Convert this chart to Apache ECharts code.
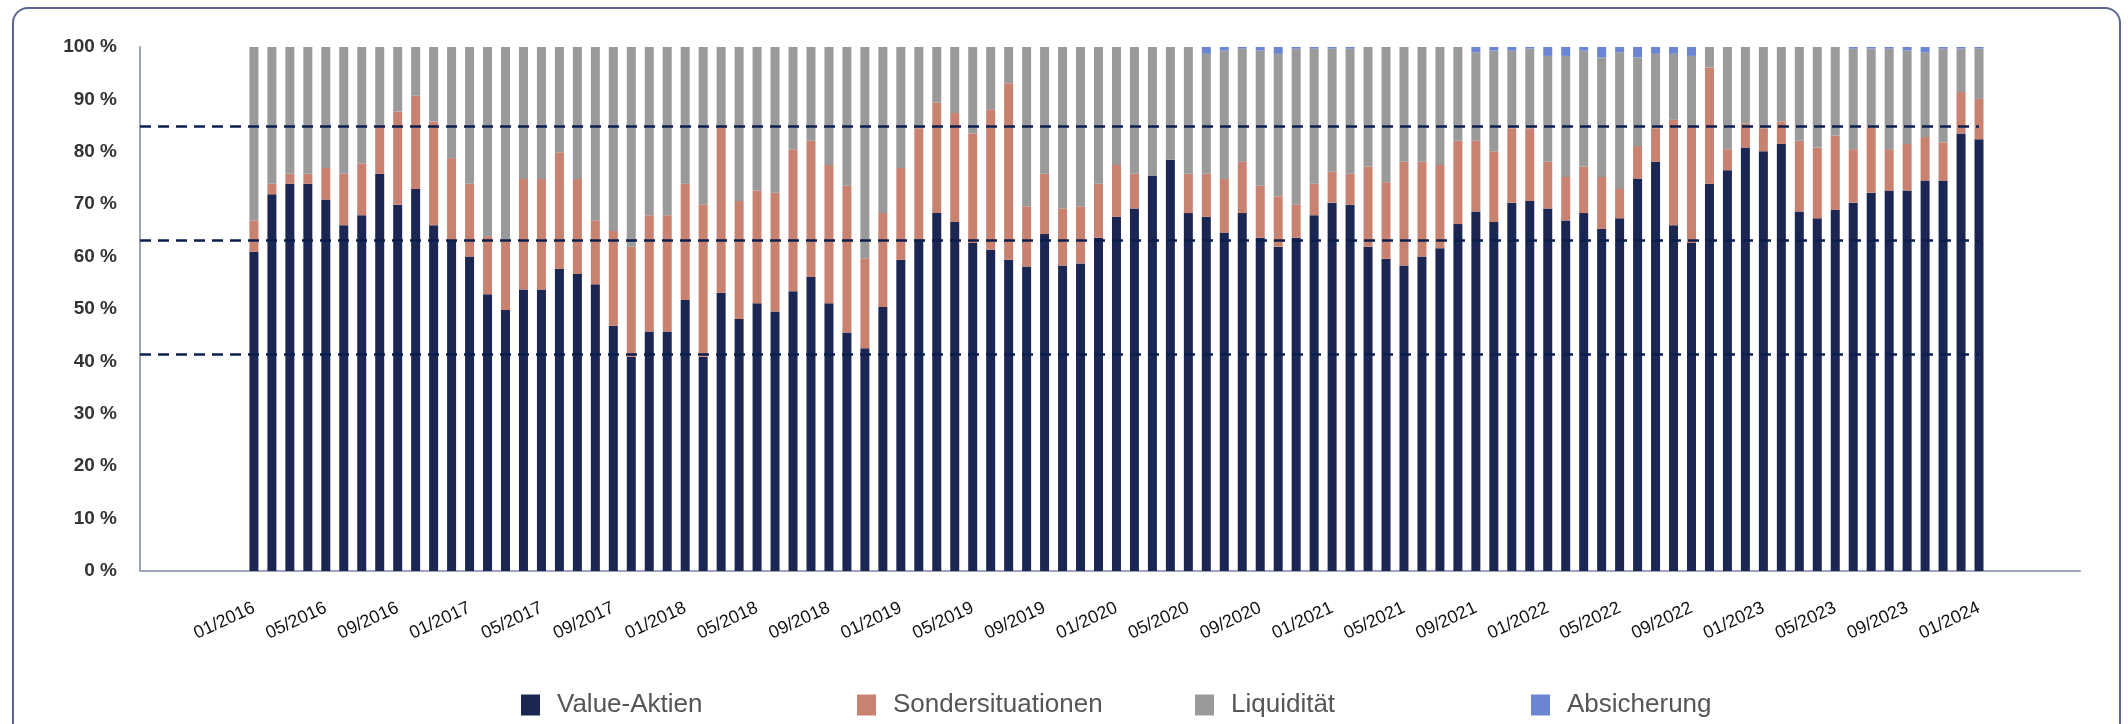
<!DOCTYPE html>
<html>
<head>
<meta charset="utf-8">
<script src="https://cdn.jsdelivr.net/npm/echarts@6/dist/echarts.min.js"></script>
<style>
html,body{margin:0;padding:0;background:#fff;overflow:hidden;}
#c{position:absolute;left:0;top:0;width:2128px;height:724px;}
#frame{position:absolute;left:12px;top:7px;width:2109px;height:740px;border:2px solid #5b6590;border-radius:16px;box-sizing:border-box;pointer-events:none;}
</style>
</head>
<body>
<div id="c"></div>
<div id="frame"></div>
<script>
// Monthly categories 01/2016 .. 01/2024 (97 months)
const months = [];
for (let y = 2016; y <= 2024; y++) {
  for (let m = 1; m <= 12; m++) {
    if (y === 2024 && m > 1) break;
    months.push((m < 10 ? '0' : '') + m + '/' + y);
  }
}
const tickLabels = ['01/2016','05/2016','09/2016','01/2017','05/2017','09/2017','01/2018','05/2018','09/2018',
  '01/2019','05/2019','09/2019','01/2020','05/2020','09/2020','01/2021','05/2021','09/2021',
  '01/2022','05/2022','09/2022','01/2023','05/2023','09/2023','01/2024'];

const seriesNames = ['Value-Aktien', 'Sondersituationen', 'Liquidität', 'Absicherung'];

const valueAktien = [
  60.9,71.9,73.9,73.9,70.9,66.0,67.9,75.8,69.9,72.9,
  66.0,63.0,60.0,52.8,49.8,53.7,53.7,57.7,56.7,54.7,
  46.8,40.9,45.7,45.7,51.7,40.9,53.1,48.1,51.1,49.5,
  53.4,56.1,51.1,45.5,42.5,50.4,59.4,63.3,68.3,66.6,
  62.6,61.3,59.4,58.1,64.3,58.3,58.7,63.6,67.6,69.2,
  75.5,78.5,68.3,67.6,64.6,68.3,63.6,61.9,63.6,67.9,
  70.3,69.9,61.9,59.6,58.3,60.0,61.6,66.2,68.6,66.6,
  70.3,70.6,69.2,66.9,68.3,65.3,67.3,74.9,78.1,66.0,
  62.6,73.9,76.5,80.8,80.1,81.5,68.6,67.3,68.9,70.3,
  72.2,72.6,72.6,74.5,74.5,83.5,82.4
];
const sondersituationen = [
  6.0,2.0,1.9,1.9,6.0,9.8,9.9,9.0,17.8,17.8,
  19.8,15.8,13.9,11.1,13.2,21.1,21.1,22.2,18.1,12.2,
  18.1,21.0,22.2,22.2,22.2,29.0,31.7,22.5,21.5,22.7,
  27.1,26.0,26.4,28.0,17.2,17.9,17.5,21.2,21.1,20.8,
  20.9,26.8,33.7,11.5,11.5,10.9,10.9,10.3,9.9,6.6,
  0,0,7.5,8.2,10.2,9.8,9.9,9.6,6.3,6.0,
  5.9,5.9,15.3,14.6,19.8,18.1,15.9,15.9,13.5,13.5,
  14.2,13.9,8.9,8.3,8.9,9.9,5.6,6.2,6.4,20.1,
  22.5,22.2,4.0,4.6,4.4,4.3,13.5,13.5,14.2,10.2,
  12.6,7.9,8.9,8.3,7.3,7.9,7.7
];
const liquiditaet = [
  33.1,26.1,24.2,24.2,23.1,24.2,22.2,15.2,12.3,9.3,
  14.2,21.2,26.1,36.1,37.0,25.2,25.2,20.1,25.2,33.1,
  35.1,38.1,32.1,32.1,26.1,30.1,15.2,29.4,27.4,27.8,
  19.5,17.9,22.5,26.5,40.3,31.7,23.1,15.5,10.6,12.6,
  16.5,11.9,6.9,30.4,24.2,30.8,30.4,26.1,22.5,24.2,
  24.5,21.5,24.2,22.9,24.5,21.6,25.8,27.2,29.8,25.8,
  23.5,23.9,22.8,25.8,21.9,21.9,22.5,17.9,16.9,19.2,
  14.8,15.2,20.2,23.1,22.1,22.8,26.1,16.9,14.2,12.6,
  13.2,3.9,19.5,14.6,15.5,14.2,17.9,19.2,16.9,19.2,
  14.9,19.2,17.8,16.2,17.9,8.3,9.6
];
const absicherung = [
  0,0,0,0,0,0,0,0,0,0,
  0,0,0,0,0,0,0,0,0,0,
  0,0,0,0,0,0,0,0,0,0,
  0,0,0,0,0,0,0,0,0,0,
  0,0,0,0,0,0,0,0,0,0,
  0,0,0,1.3,0.7,0.3,0.7,1.3,0.3,0.3,
  0.3,0.3,0,0,0,0,0,0,1.0,0.7,
  0.7,0.3,1.7,1.7,0.7,2.0,1.0,2.0,1.3,1.3,
  1.7,0,0,0,0,0,0,0,0,0.3,
  0.3,0.3,0.7,1.0,0.3,0.3,0.3
];
// dashed reference levels (%)
const refLevels = [84.9, 63.2, 41.3];

const colors = ['#1b2653', '#c98170', '#9a9a9a', '#6a86d3'];
const FONT = 'Liberation Sans, Arial, sans-serif';
const X_MIN = -6.34, X_MAX = 101.62;

const tickPositions = tickLabels.map(t => months.indexOf(t));
const seriesData = [valueAktien, sondersituationen, liquiditaet, absicherung];
const legendLefts = [521, 857, 1195, 1531];

const chart = echarts.init(document.getElementById('c'), null, {renderer: 'canvas'});
const series = seriesNames.map((name, k) => ({
  name: name,
  type: 'bar',
  stack: 'total',
  barWidth: 9,
  itemStyle: {color: colors[k]},
  emphasis: {disabled: true},
  // value first so that the stacked dimension is the percentage, month index second
  encode: {x: 1, y: 0},
  data: seriesData[k].map((v, i) => [v, i])
}));
series[3].markLine = {
  silent: true,
  symbol: 'none',
  label: {show: false},
  lineStyle: {type: [11, 7], width: 2.5, color: '#0b1f4f'},
  data: refLevels.map(v => [{coord: [X_MIN, v]}, {coord: [months.length - 1, v]}])
};

chart.setOption({
  animation: false,
  backgroundColor: '#ffffff',
  color: colors,
  grid: {left: 140, right: 48, top: 47, bottom: 153, containLabel: false},
  legend: seriesNames.map((name, k) => ({
    data: [name],
    left: legendLefts[k],
    top: 692,
    icon: 'rect',
    itemWidth: 19,
    itemHeight: 21,
    padding: 0,
    selectedMode: false,
    textStyle: {fontSize: 26, color: '#555555', fontFamily: FONT, padding: [0, 0, 0, 12]}
  })),
  xAxis: {
    type: 'value',
    min: X_MIN,
    max: X_MAX,
    axisLine: {show: true, onZero: false, lineStyle: {color: '#9ea4ba', width: 2}},
    axisTick: {show: false},
    splitLine: {show: false},
    axisLabel: {
      customValues: tickPositions,
      formatter: v => months[Math.round(v)] || '',
      rotate: 25,
      margin: 36,
      fontSize: 18,
      color: '#111',
      fontFamily: FONT
    }
  },
  yAxis: {
    type: 'value',
    min: 0,
    max: 100,
    interval: 10,
    axisLine: {show: true, onZero: false, lineStyle: {color: '#9ea4ba', width: 2}},
    axisTick: {show: false},
    splitLine: {show: false},
    axisLabel: {formatter: '{value} %', fontSize: 19, fontWeight: 'bold', color: '#333', margin: 23, fontFamily: FONT}
  },
  series: series
});
</script>
</body>
</html>
